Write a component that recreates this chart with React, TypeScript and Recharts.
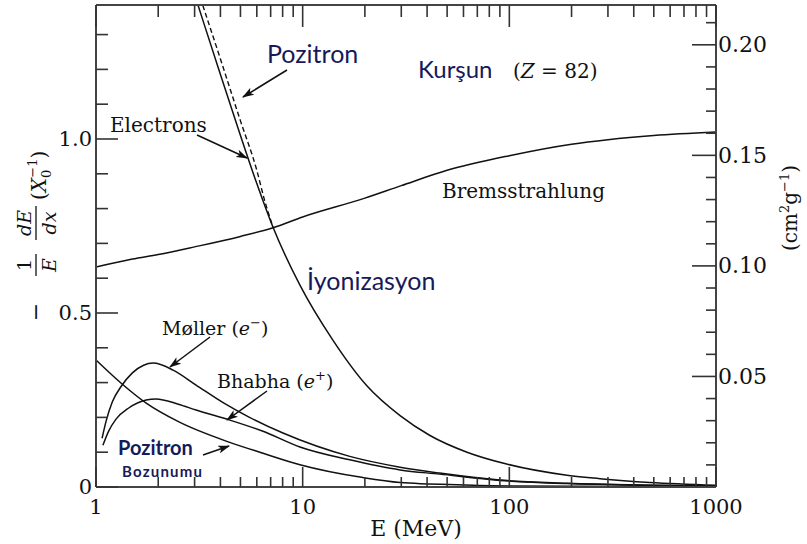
import React from 'react';
import { LineChart, Line, XAxis, YAxis } from 'recharts';

// Fractional energy loss per radiation length in lead, vs. energy (MeV)
const bremsE = [1, 1.5, 2, 3, 5, 7.18, 10, 20, 30, 50, 100, 200, 300, 500, 1000];
const bremsLoss = [0.632, 0.655, 0.668, 0.69, 0.72, 0.745, 0.776, 0.83, 0.866, 0.91, 0.952, 0.985, 0.998, 1.01, 1.02];

const ionE = [2.8, 3, 4, 5, 6, 7.18, 9.7, 14, 20.5, 29.6, 41.3, 62.4, 97, 190, 274, 479, 1000];
const ionLoss = [1.47, 1.415, 1.185, 1.01, 0.872, 0.747, 0.58, 0.422, 0.29, 0.205, 0.148, 0.1, 0.066, 0.034, 0.024, 0.013, 0.005];

const ionPosE = [2.8, 3, 4, 5, 6, 6.5, 7.18];
const ionPosLoss = [1.516, 1.458, 1.23, 1.052, 0.91, 0.83, 0.747];

const mollerE = [1.07, 1.12, 1.2, 1.32, 1.5, 1.7, 1.89, 2.36, 3.05, 4.16, 5.5, 8.03, 16.9, 29.6, 46, 90, 190, 1000];
const mollerLoss = [0.14, 0.19, 0.245, 0.288, 0.328, 0.35, 0.356, 0.336, 0.293, 0.241, 0.201, 0.155, 0.088, 0.057, 0.04, 0.02, 0.011, 0.003];

const bhabhaE = [1.08, 1.15, 1.25, 1.44, 1.75, 1.95, 2.5, 3.05, 4.4, 6.43, 9.7, 16.9, 29.6, 46, 90, 190, 1000];
const bhabhaLoss = [0.12, 0.16, 0.195, 0.227, 0.25, 0.253, 0.238, 0.221, 0.193, 0.16, 0.115, 0.078, 0.049, 0.037, 0.019, 0.01, 0.003];

const annihE = [1, 1.32, 1.75, 2.52, 4.4, 6.43, 9.7, 19.6, 29.6, 60, 100, 1000];
const annihLoss = [0.365, 0.299, 0.241, 0.187, 0.129, 0.097, 0.064, 0.027, 0.013, 0.006, 0.003, 0.0005];

const xTicks = [1, 2, 3, 4, 5, 6, 7, 8, 9, 10, 20, 30, 40, 50, 60, 70, 80, 90, 100, 200, 300, 400, 500, 600, 700, 800, 900, 1000];
const xLabels = [1, 10, 100, 1000];
const leftTicks = [0, 0.1, 0.2, 0.3, 0.4, 0.5, 0.6, 0.7, 0.8, 0.9, 1.0, 1.1, 1.2, 1.3];
const leftLabels = ['0', '0.5', '1.0'];
const rightTicks = [0.01, 0.02, 0.03, 0.04, 0.05, 0.06, 0.07, 0.08, 0.09, 0.1, 0.11, 0.12, 0.13, 0.14, 0.15, 0.16, 0.17, 0.18, 0.19, 0.2, 0.21];
const rightLabels = ['0.05', '0.10', '0.15', '0.20'];

const zip = (es: number[], vs: number[]) => es.map((E, i) => ({ E, v: vs[i] }));

const SERIF = '"DejaVu Serif", serif';
const SANS = 'Lato, "Noto Sans", sans-serif';
const INK = '#111';
const AXIS = '#333';
const NAVY = '#161a5a';

const W = 807;
const H = 544;
// plot frame edges
const PL = 96;
const PR = 716;
const PT = 5;
const PB = 487;

// x ticks point inward from the bottom and top frame edges
const BottomTick = (props: any) => {
  const { x, payload } = props;
  const v = payload.value;
  const major = xLabels.includes(v);
  return (
    <g>
      <path d={`M${x},${PB}V${PB - (major ? 20 : 10)}`} stroke={AXIS} strokeWidth={1.6} fill="none" />
      {major && (
        <text x={x} y={PB + 27} textAnchor="middle" fontFamily={SERIF} fontSize={21} fill={INK}>
          {v}
        </text>
      )}
    </g>
  );
};

const TopTick = (props: any) => {
  const { x, payload } = props;
  const major = xLabels.includes(payload.value);
  return <path d={`M${x},${PT}V${PT + (major ? 22 : 12)}`} stroke={AXIS} strokeWidth={1.6} fill="none" />;
};

const LeftTick = (props: any) => {
  const { y, payload } = props;
  const label = payload.value === 0 ? '0' : payload.value.toFixed(1);
  const major = leftLabels.includes(label);
  return (
    <g>
      <path d={`M${PL},${y}H${PL + (major ? 22 : 12)}`} stroke={AXIS} strokeWidth={1.6} fill="none" />
      {major && (
        <text x={PL - 4} y={y} textAnchor="end" dominantBaseline="central" fontFamily={SERIF} fontSize={21} fill={INK}>
          {label}
        </text>
      )}
    </g>
  );
};

const RightTick = (props: any) => {
  const { y, payload } = props;
  const label = payload.value.toFixed(2);
  const major = rightLabels.includes(label);
  return (
    <g>
      <path d={`M${PR},${y}H${PR - (major ? 24 : 10)}`} stroke={AXIS} strokeWidth={1.6} fill="none" />
      {major && (
        <text x={PR + 2} y={y} textAnchor="start" dominantBaseline="central" fontFamily={SERIF} fontSize={22} fill={INK}>
          {label}
        </text>
      )}
    </g>
  );
};

const Arrow = ({ x1, y1, x2, y2 }: { x1: number; y1: number; x2: number; y2: number }) => (
  <line x1={x1} y1={y1} x2={x2} y2={y2} stroke={INK} strokeWidth={1.5} markerEnd="url(#head)" />
);

const Annotations = () => (
  <svg width={W} height={H} style={{ position: 'absolute', left: 0, top: 0, pointerEvents: 'none' }}>
    <defs>
      <marker id="head" viewBox="0 0 12 8" refX="11" refY="4" markerWidth="12" markerHeight="8" markerUnits="userSpaceOnUse" orient="auto">
        <path d="M0,0 L12,4 L0,8 L3,4 Z" fill={INK} />
      </marker>
    </defs>

    <text x={267} y={63} fontFamily={SANS} fontSize={25} fill={NAVY}>Pozitron</text>
    <Arrow x1={287} y1={70} x2={243} y2={97} />

    <text x={418} y={78} fontFamily={SANS} fontSize={24} fill={NAVY}>Kurşun</text>
    <text x={513} y={78} fontFamily={SERIF} fontSize={20} fill={INK}>
      (<tspan fontStyle="italic">Z</tspan> = 82)
    </text>

    <text x={110} y={132} fontFamily={SERIF} fontSize={20} fill={INK}>Electrons</text>
    <Arrow x1={197} y1={135} x2={247} y2={158} />

    <text x={442} y={198} fontFamily={SERIF} fontSize={20} fill={INK}>Bremsstrahlung</text>

    <text x={307} y={290} fontFamily={SANS} fontSize={25} fill={NAVY}>İyonizasyon</text>

    <text x={162} y={335} fontFamily={SERIF} fontSize={19} fill={INK}>
      Møller (<tspan fontStyle="italic">e</tspan>
      <tspan fontSize={13} dy={-8}>−</tspan>
      <tspan dy={8}>)</tspan>
    </text>
    <Arrow x1={210} y1={337} x2={170} y2={367} />

    <text x={217} y={388} fontFamily={SERIF} fontSize={19} fill={INK}>
      Bhabha (<tspan fontStyle="italic">e</tspan>
      <tspan fontSize={13} dy={-8}>+</tspan>
      <tspan dy={8}>)</tspan>
    </text>
    <Arrow x1={267} y1={391} x2={227} y2={420} />

    <text x={118} y={455} fontFamily={SANS} fontSize={20} fontWeight={700} fill={NAVY}>Pozitron</text>
    <text x={122} y={477} fontFamily={SANS} fontSize={15} fontWeight={700} letterSpacing={1.2} fill={NAVY}>Bozunumu</text>
    <Arrow x1={203} y1={455} x2={229} y2={446} />

    <text x={416} y={536} textAnchor="middle" fontFamily={SERIF} fontSize={22} fill={INK}>E  (MeV)</text>

    {/* left axis title: -(1/E)(dE/dx) (X0^-1) */}
    <g transform="translate(36,230) rotate(-90)" fontFamily={SERIF} fill={INK}>
      <text x={-82} y={7} textAnchor="middle" fontSize={22}>−</text>
      <text x={-35} y={-5} textAnchor="middle" fontSize={19}>1</text>
      <line x1={-46} y1={0} x2={-24} y2={0} stroke={INK} strokeWidth={1.3} />
      <text x={-35} y={20} textAnchor="middle" fontSize={19} fontStyle="italic">E</text>
      <text x={7} y={-5} textAnchor="middle" fontSize={19} fontStyle="italic">dE</text>
      <line x1={-10} y1={0} x2={24} y2={0} stroke={INK} strokeWidth={1.3} />
      <text x={7} y={20} textAnchor="middle" fontSize={19} fontStyle="italic">dx</text>
      <text x={30} y={10} fontSize={20}>
        (<tspan fontStyle="italic">X</tspan>
        <tspan fontSize={13} dy={5}>0</tspan>
        <tspan fontSize={13} dx={-8} dy={-14}>−1</tspan>
        <tspan dy={9}>)</tspan>
      </text>
    </g>

    <g transform="translate(790,208) rotate(-90)" fontFamily={SERIF} fill={INK}>
      <text x={0} y={7} textAnchor="middle" fontSize={20}>
        (cm<tspan fontSize={13} dy={-8}>2</tspan>
        <tspan dy={8}>g</tspan>
        <tspan fontSize={13} dy={-8}>−1</tspan>
        <tspan dy={8}>)</tspan>
      </text>
    </g>
  </svg>
);

const axisLine = { stroke: '#444', strokeWidth: 2 };

export default function App() {
  return (
    <div style={{ position: 'absolute', left: 0, top: 0, width: W, height: H, background: '#fff' }}>
      <LineChart width={W} height={H} margin={{ top: PT - 1, right: W - PR - 1, bottom: H - PB - 1, left: PL - 1 }}>
        <XAxis
          xAxisId="bottom"
          dataKey="E"
          type="number"
          scale="log"
          domain={[1, 1000]}
          ticks={xTicks}
          allowDataOverflow
          height={1}
          tickSize={0}
          tickMargin={0}
          tickLine={false}
          axisLine={axisLine}
          tick={<BottomTick />}
          interval={0}
        />
        <XAxis
          xAxisId="top"
          orientation="top"
          dataKey="E"
          type="number"
          scale="log"
          domain={[1, 1000]}
          ticks={xTicks}
          allowDataOverflow
          height={1}
          tickSize={0}
          tickMargin={0}
          tickLine={false}
          axisLine={axisLine}
          tick={<TopTick />}
          interval={0}
        />
        <YAxis
          yAxisId="left"
          type="number"
          domain={[0, 1.385]}
          ticks={leftTicks}
          allowDataOverflow
          width={1}
          tickSize={0}
          tickMargin={0}
          tickLine={false}
          axisLine={axisLine}
          tick={<LeftTick />}
          interval={0}
        />
        <YAxis
          yAxisId="right"
          orientation="right"
          type="number"
          domain={[0, 0.218]}
          ticks={rightTicks}
          allowDataOverflow
          width={1}
          tickSize={0}
          tickMargin={0}
          tickLine={false}
          axisLine={axisLine}
          tick={<RightTick />}
          interval={0}
        />
        <Line xAxisId="bottom" yAxisId="left" data={zip(bremsE, bremsLoss)} dataKey="v" type="monotone" stroke={INK} strokeWidth={1.5} dot={false} isAnimationActive={false} />
        <Line xAxisId="bottom" yAxisId="left" data={zip(ionE, ionLoss)} dataKey="v" type="monotone" stroke={INK} strokeWidth={1.5} dot={false} isAnimationActive={false} />
        <Line xAxisId="bottom" yAxisId="left" data={zip(ionPosE, ionPosLoss)} dataKey="v" type="monotone" stroke={INK} strokeWidth={1.4} strokeDasharray="5 3" dot={false} isAnimationActive={false} />
        <Line xAxisId="bottom" yAxisId="left" data={zip(mollerE, mollerLoss)} dataKey="v" type="monotone" stroke={INK} strokeWidth={1.5} dot={false} isAnimationActive={false} />
        <Line xAxisId="bottom" yAxisId="left" data={zip(bhabhaE, bhabhaLoss)} dataKey="v" type="monotone" stroke={INK} strokeWidth={1.5} dot={false} isAnimationActive={false} />
        <Line xAxisId="bottom" yAxisId="left" data={zip(annihE, annihLoss)} dataKey="v" type="monotone" stroke={INK} strokeWidth={1.5} dot={false} isAnimationActive={false} />
      </LineChart>
      <Annotations />
    </div>
  );
}
